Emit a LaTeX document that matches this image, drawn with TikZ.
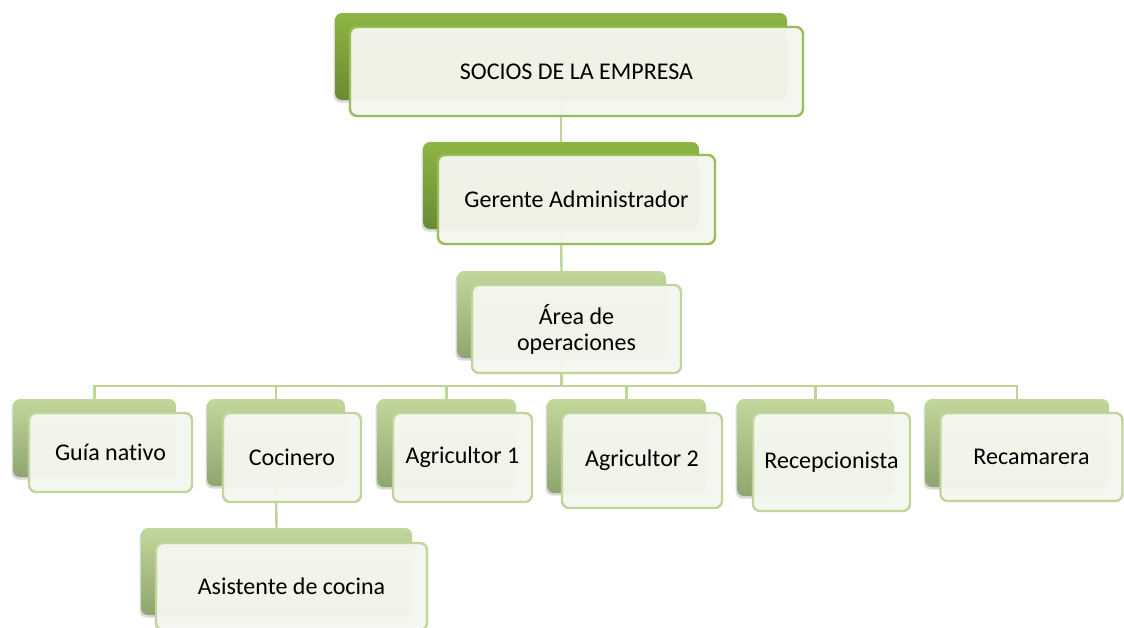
\documentclass[tikz,border=0pt]{standalone}
\usepackage{fontspec}
\setmainfont{Carlito}[Ligatures=NoCommon]
\usetikzlibrary{shadows}
\definecolor{darktop}{HTML}{8DB543}
\definecolor{darkbot}{HTML}{6A8A34}
\definecolor{lighttop}{HTML}{C2D79A}
\definecolor{lightbot}{HTML}{8EA56F}
\definecolor{topedge}{HTML}{9BBB59}
\definecolor{lowedge}{HTML}{C0D49B}
\definecolor{frontfill}{HTML}{F4F7EE}
\definecolor{connc}{HTML}{BFD496}
\tikzset{
  backbox/.style={rounded corners=7pt, inner sep=0pt, draw=none,
    drop shadow={shadow xshift=-1.5pt, shadow yshift=-2.5pt, opacity=0.3}},
  backdark/.style={backbox, top color=darktop, bottom color=darkbot},
  backlight/.style={backbox, top color=lighttop, bottom color=lightbot},
  frontbox/.style={rounded corners=7pt, inner sep=0pt, fill=frontfill, fill opacity=0.96,
    text opacity=1, line width=2.4pt, align=center,
    font=\fontsize{24}{26}\selectfont},
  frontdark/.style={frontbox, draw=topedge},
  frontlight/.style={frontbox, draw=lowedge},
  conn/.style={draw=connc, line width=2.4pt},
}
\begin{document}
\begin{tikzpicture}[x=1pt,y=-1pt]
\useasboundingbox (0,0) rectangle (1124,627);
% connector anchors
\coordinate (bus) at (561.5,386);
% back boxes
\node[backdark, minimum width=452pt, minimum height=87pt] (s0) at (561,56.5) {};
\node[backdark, minimum width=276pt, minimum height=87pt] (g) at (561,185.5) {};
\node[backlight, minimum width=209pt, minimum height=87pt] (a) at (561.5,314.5) {};
\node[backlight, minimum width=163pt, minimum height=78pt] (guia) at (94.5,438) {};
\node[backlight, minimum width=138pt, minimum height=87pt] (coc) at (276,442.5) {};
\node[backlight, minimum width=139pt, minimum height=88pt] (ag1) at (446.5,443) {};
\node[backlight, minimum width=159pt, minimum height=94pt] (ag2) at (626.5,446) {};
\node[backlight, minimum width=157pt, minimum height=97pt] (rec) at (815.5,447.5) {};
\node[backlight, minimum width=184pt, minimum height=88pt] (ram) at (1017,443) {};
\node[backlight, minimum width=271pt, minimum height=87pt] (asis) at (276.5,571.5) {};
% connectors
\draw[conn] (s0.south) -- (g.north);
\draw[conn] (g.south) -- (a.north);
\draw[conn] (a.south) -- (bus);
\draw[conn] (bus) -| (guia.north);
\draw[conn] (bus) -| (coc.north);
\draw[conn] (bus) -| (ag1.north);
\draw[conn] (bus) -| (ag2.north);
\draw[conn] (bus) -| (rec.north);
\draw[conn] (bus) -| (ram.north);
\draw[conn] (coc.south) -- (asis.north);
% front boxes
\node[frontdark, minimum width=453pt, minimum height=89pt] (s0f) at (576.5,71.5) {SOCIOS DE LA EMPRESA};
\node[frontdark, minimum width=277pt, minimum height=89pt] (gf) at (576.5,199.5) {Gerente Administrador};
\node[frontlight, minimum width=209pt, minimum height=88pt] (af) at (576.5,329) {Área de\\operaciones};
\node[frontlight, minimum width=163pt, minimum height=79pt] (guiaf) at (110.5,452.5) {Guía nativo};
\node[frontlight, minimum width=138pt, minimum height=89pt] (cocf) at (292,457.5) {Cocinero};
\node[frontlight, minimum width=139pt, minimum height=89pt] (ag1f) at (462.5,457.5) {Agricultor 1};
\node[frontlight, minimum width=160pt, minimum height=95pt] (ag2f) at (642,460.5) {Agricultor 2};
\node[frontlight, minimum width=157pt, minimum height=98pt] (recf) at (831.5,462) {Recepcionista};
\node[frontlight, minimum width=182pt, minimum height=88pt] (ramf) at (1031.5,457) {Recamarera};
\node[frontlight, minimum width=271pt, minimum height=87pt] (asisf) at (291.5,586.5) {Asistente de cocina};
\end{tikzpicture}
\end{document}
